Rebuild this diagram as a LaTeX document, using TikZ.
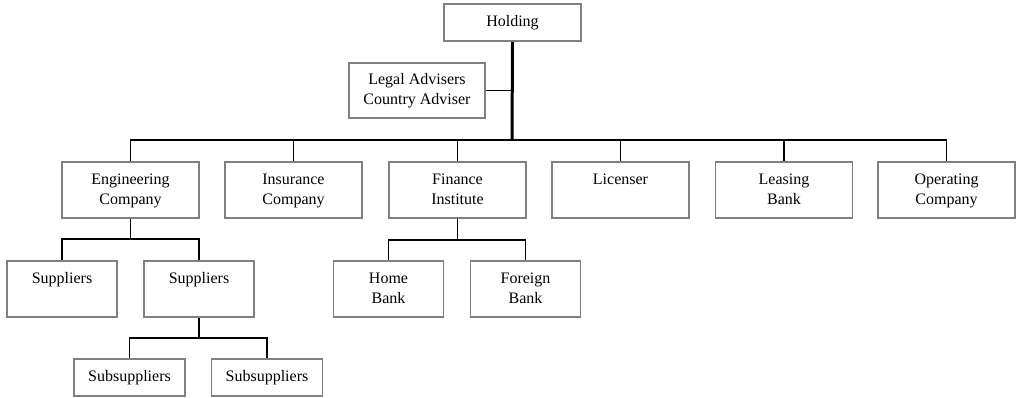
\documentclass[tikz,border=0pt]{standalone}
\usepackage{fontspec}
\setmainfont{Liberation Serif}
\newcommand{\tw}[2]{\strut #1\\\strut #2}
\begin{document}
\begin{tikzpicture}[x=1pt,y=-1pt,
  box/.style={draw=black!50,line width=1.6pt,fill=white,align=center,inner sep=0pt,
    font=\fontsize{16}{20}\selectfont},
  big/.style={box,minimum width=137pt,minimum height=56pt},
  small/.style={box,minimum width=110pt,minimum height=56pt},
  flat/.style={box,minimum width=111pt,minimum height=37pt},
  conn/.style={draw=black,line width=1.7pt},
  trunk/.style={draw=black,line width=3pt}]
\useasboundingbox (0,0) rectangle (1016,397);

% top level
\node[box,minimum width=137pt,minimum height=37pt] (hold) at (512.5,22.5) {\strut Holding};
\node[box,minimum width=136pt,minimum height=55pt] (legal) at (417,90.5) {\tw{Legal Advisers}{Country Adviser}};

% companies
\node[big] (eng) at (130.5,190) {\tw{Engineering}{Company}};
\node[big] (ins) at (293.5,190) {\tw{Insurance}{Company}};
\node[big] (fin) at (457.5,190) {\tw{Finance}{Institute}};
\node[big] (lic) at (620.5,190) {\tw{Licenser}{}};
\node[big] (lea) at (784,190) {\tw{Leasing}{Bank}};
\node[big] (op) at (946.5,190) {\tw{Operating}{Company}};

% suppliers and banks
\node[small] (sup1) at (62,289) {\tw{Suppliers}{}};
\node[small] (sup2) at (199,289) {\tw{Suppliers}{}};
\node[small] (home) at (388.5,289) {\tw{Home}{Bank}};
\node[small] (foreign) at (525.5,289) {\tw{Foreign}{Bank}};

% subsuppliers
\node[flat] (sub1) at (129.5,377.5) {\strut Subsuppliers};
\node[flat] (sub2) at (267,377.5) {\strut Subsuppliers};

% branch points
\coordinate (bus) at (512,140);
\coordinate (ebus) at (130.5,239);
\coordinate (fbus) at (457.5,240);
\coordinate (sbus) at (199,338);

% holding level
\draw[trunk] (hold.south) -- (bus);
\draw[conn] (legal.east) -- (legal.east -| hold.south);
\draw[conn] (eng.north) |- (bus) -| (op.north);
\foreach \n in {ins,fin,lic,lea}
  \draw[conn] (\n.north) -- (\n.north |- bus);

% engineering branch
\draw[conn] (eng.south) -- (ebus);
\draw[conn] (sup1.north) |- (ebus) -| (sup2.north);
\draw[conn] (sup2.south) -- (sbus);
\draw[conn] (sub1.north) |- (sbus) -| (sub2.north);

% finance branch
\draw[conn] (fin.south) -- (fbus);
\draw[conn] (home.north) |- (fbus) -| (foreign.north);
\end{tikzpicture}
\end{document}
